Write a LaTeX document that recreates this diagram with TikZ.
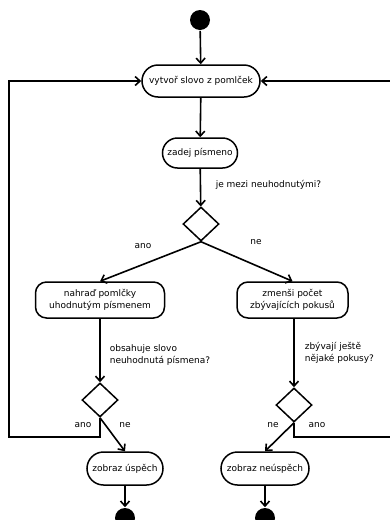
\documentclass[tikz,border=0pt]{standalone}
\usepackage{fontspec}
\setmainfont{DejaVu Sans}
\usetikzlibrary{arrows.meta,shapes.geometric,shapes.misc}
\begin{document}
\begin{tikzpicture}[x=1pt,y=-1pt,
  line width=1.6pt,
  every node/.style={font=\fontsize{9.0}{11.5}\selectfont, inner sep=0pt},
  act/.style={draw, rounded rectangle, line width=1.5pt, align=center, minimum height=32pt, inner xsep=7pt},
  act2/.style={draw, rounded corners=11pt, line width=1.5pt, align=center, minimum height=36pt},
  dec/.style={draw, diamond, line width=1.5pt, minimum width=36pt, minimum height=34pt},
  startnode/.style={circle, fill=black, minimum size=20pt},
  lbl/.style={anchor=west, align=left},
  flow/.style={-{Straight Barb[length=5pt,width=9pt,line width=1.6pt]}},
]
\useasboundingbox (0,0) rectangle (390,520);
\node[startnode] (s) at (200,20) {};
\node[act, minimum width=132pt] (a) at (201,81) {vytvoř slovo z pomlček};
\node[act, minimum width=89pt, minimum height=30pt] (b) at (200,153) {zadej písmeno};
\node[dec] (d1) at (201,224) {};
\node[act2, minimum width=129pt] (l) at (100,300) {nahraď pomlčky\\uhodnutým písmenem};
\node[act2, minimum width=111pt] (r) at (292.5,300) {zmenši počet\\zbývajících pokusů};
\node[dec] (d2) at (100,400) {};
\node[dec] (d3) at (294,405) {};
\node[act, minimum width=90pt, minimum height=33pt] (u) at (125,468.5) {zobraz úspěch};
\node[act, minimum width=102pt, minimum height=33pt] (n) at (265,468.5) {zobraz neúspěch};
\node[startnode] (e1) at (125,518) {};
\node[startnode] (e2) at (265,518) {};
\coordinate (lb) at (100,437);
\coordinate (lc) at (9,437);
\coordinate (lt) at (9,81);
\coordinate (rb) at (294,437);
\coordinate (rc) at (393,437);
\coordinate (rt) at (393,81);

\draw[flow] (s) -- (a);
\draw[flow] (a) -- (b);
\draw[flow] (b) -- (d1);
\draw[flow] (d1.south) -- (l.north);
\draw[flow] (d1.south) -- (r.north);
\draw[flow] (l) -- (d2);
\draw[flow] (r.south -| d3) -- (d3);
\draw[flow] (d2.south) -- (u.north);
\draw[flow] (d3.south) -- (n.north);
\draw[flow] (u) -- (e1);
\draw[flow] (n) -- (e2);
\draw[flow] (d2.south) -- (lb) -- (lc) -- (lt) -- (a.west);
\draw[flow] (d3.south) -- (rb) -- (rc) -- (rt) -- (a.east);

\node[lbl] (t1) at (215,185) {je mezi neuhodnutými?};
\node (t2) at (143,246) {ano};
\node (t3) at (256,242) {ne};
\node[lbl] (t4) at (109,355) {obsahuje slovo\\neuhodnutá písmena?};
\node[lbl] (t5) at (304,353) {zbývají ještě\\nějaké pokusy?};
\node (t6) at (83,425) {ano};
\node (t7) at (125,425) {ne};
\node (t8) at (273,425) {ne};
\node (t9) at (317,425) {ano};
\end{tikzpicture}
\end{document}
